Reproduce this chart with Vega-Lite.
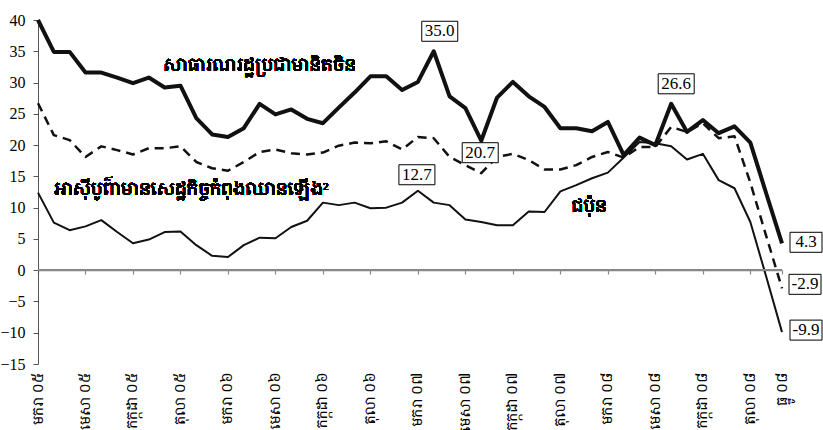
{
  "$schema": "https://vega.github.io/schema/vega-lite/v6.json",
  "width": 744,
  "height": 344,
  "autosize": "none",
  "padding": {"left": 38, "top": 20, "right": 41, "bottom": 66},
  "background": "white",
  "config": {
    "view": {"stroke": null},
    "font": "Liberation Serif",
    "axis": {"grid": false},
    "axisY": {"tickCount": 11, "domainColor": "#555", "tickColor": "#555", "tickSize": 5, "labelFont": "Liberation Serif", "labelFontSize": 16, "labelColor": "black", "labelPadding": 8, "labelOverlap": false, "labelFlush": false, "labelBound": false},
    "axisX": {"labelAngle": -90, "labelFont": "Noto Serif Khmer, Noto Sans Khmer, Khmer OS, serif", "labelFontSize": 14, "labelColor": "black", "labelOverlap": false, "labelBound": false, "labelFlush": false}
  },
  "datasets": {
    "series": [
      {"m": "មករា ០៥", "china": 40.0, "asia": 26.7, "japan": 12.4},
      {"m": "កុម្ភៈ ០៥", "china": 34.9, "asia": 21.6, "japan": 7.6},
      {"m": "មីនា ០៥", "china": 34.9, "asia": 20.8, "japan": 6.4},
      {"m": "មេសា ០៥", "china": 31.6, "asia": 18.1, "japan": 7.0},
      {"m": "ឧសភា ០៥", "china": 31.6, "asia": 19.8, "japan": 8.0},
      {"m": "មិថុនា ០៥", "china": 30.8, "asia": 19.2, "japan": 6.1},
      {"m": "កក្កដា ០៥", "china": 29.9, "asia": 18.5, "japan": 4.3},
      {"m": "សីហា ០៥", "china": 30.8, "asia": 19.5, "japan": 4.9},
      {"m": "កញ្ញា ០៥", "china": 29.2, "asia": 19.5, "japan": 6.1},
      {"m": "តុលា ០៥", "china": 29.5, "asia": 19.8, "japan": 6.2},
      {"m": "វិច្ឆិកា ០៥", "china": 24.3, "asia": 17.3, "japan": 4.0},
      {"m": "ធ្នូ ០៥", "china": 21.7, "asia": 16.3, "japan": 2.3},
      {"m": "មករា ០៦", "china": 21.3, "asia": 15.9, "japan": 2.1},
      {"m": "កុម្ភៈ ០៦", "china": 22.7, "asia": 17.3, "japan": 4.0},
      {"m": "មីនា ០៦", "china": 26.6, "asia": 18.9, "japan": 5.2},
      {"m": "មេសា ០៦", "china": 24.9, "asia": 19.3, "japan": 5.1},
      {"m": "ឧសភា ០៦", "china": 25.7, "asia": 18.7, "japan": 6.9},
      {"m": "មិថុនា ០៦", "china": 24.2, "asia": 18.5, "japan": 7.9},
      {"m": "កក្កដា ០៦", "china": 23.5, "asia": 18.8, "japan": 10.8},
      {"m": "សីហា ០៦", "china": 26.0, "asia": 19.9, "japan": 10.4},
      {"m": "កញ្ញា ០៦", "china": 28.4, "asia": 20.4, "japan": 10.8},
      {"m": "តុលា ០៦", "china": 31.0, "asia": 20.3, "japan": 9.9},
      {"m": "វិច្ឆិកា ០៦", "china": 31.0, "asia": 20.6, "japan": 10.0},
      {"m": "ធ្នូ ០៦", "china": 28.8, "asia": 19.3, "japan": 10.8},
      {"m": "មករា ០៧", "china": 30.1, "asia": 21.3, "japan": 12.7},
      {"m": "កុម្ភៈ ០៧", "china": 35.0, "asia": 21.1, "japan": 10.8},
      {"m": "មីនា ០៧", "china": 27.8, "asia": 18.1, "japan": 10.4},
      {"m": "មេសា ០៧", "china": 25.9, "asia": 16.8, "japan": 8.1},
      {"m": "ឧសភា ០៧", "china": 20.7, "asia": 15.5, "japan": 7.7},
      {"m": "មិថុនា ០៧", "china": 27.6, "asia": 18.1, "japan": 7.2},
      {"m": "កក្កដា ០៧", "china": 30.1, "asia": 18.6, "japan": 7.2},
      {"m": "សីហា ០៧", "china": 27.8, "asia": 17.6, "japan": 9.4},
      {"m": "កញ្ញា ០៧", "china": 26.1, "asia": 16.1, "japan": 9.3},
      {"m": "តុលា ០៧", "china": 22.7, "asia": 16.1, "japan": 12.6},
      {"m": "វិច្ឆិកា ០៧", "china": 22.7, "asia": 16.8, "japan": 13.6},
      {"m": "ធ្នូ ០៧", "china": 22.2, "asia": 18.1, "japan": 14.7},
      {"m": "មករា ០៨", "china": 23.7, "asia": 18.9, "japan": 15.6},
      {"m": "កុម្ភៈ ០៨", "china": 18.4, "asia": 18.0, "japan": 18.0},
      {"m": "មីនា ០៨", "china": 21.2, "asia": 19.7, "japan": 20.5},
      {"m": "មេសា ០៨", "china": 20.0, "asia": 19.7, "japan": 20.3},
      {"m": "ឧសភា ០៨", "china": 26.6, "asia": 22.9, "japan": 19.8},
      {"m": "មិថុនា ០៨", "china": 22.1, "asia": 22.1, "japan": 17.7},
      {"m": "កក្កដា ០៨", "china": 24.0, "asia": 23.5, "japan": 18.6},
      {"m": "សីហា ០៨", "china": 21.9, "asia": 21.1, "japan": 14.4},
      {"m": "កញ្ញា ០៨", "china": 23.0, "asia": 21.4, "japan": 13.1},
      {"m": "តុលា ០៨", "china": 20.4, "asia": 14.0, "japan": 7.7},
      {"m": "វិច្ឆិកា ០៨", "china": 12.3, "asia": 5.5, "japan": -1.0},
      {"m": "ធ្នូ ០៨", "china": 4.3, "asia": -2.9, "japan": -9.9}
    ],
    "notes": [
      {"m": "កុម្ភៈ ០៧", "v": 35.0, "label": "35.0"},
      {"m": "ឧសភា ០៧", "v": 20.7, "label": "20.7"},
      {"m": "មករា ០៧", "v": 12.7, "label": "12.7"},
      {"m": "ឧសភា ០៨", "v": 26.6, "label": "26.6"},
      {"m": "ធ្នូ ០៨", "v": 4.3, "label": "4.3"},
      {"m": "ធ្នូ ០៨", "v": -2.9, "label": "-2.9"},
      {"m": "ធ្នូ ០៨", "v": -9.9, "label": "-9.9"}
    ]
  },
  "data": {"name": "series"},
  "layer": [
    {
      "mark": {"type": "line", "color": "#111", "strokeWidth": 4, "strokeJoin": "round"},
      "encoding": {
        "x": {
          "field": "m", "type": "ordinal", "title": null,
          "scale": {"type": "point", "padding": 0, "domain": ["មករា ០៥","កុម្ភៈ ០៥","មីនា ០៥","មេសា ០៥","ឧសភា ០៥","មិថុនា ០៥","កក្កដា ០៥","សីហា ០៥","កញ្ញា ០៥","តុលា ០៥","វិច្ឆិកា ០៥","ធ្នូ ០៥","មករា ០៦","កុម្ភៈ ០៦","មីនា ០៦","មេសា ០៦","ឧសភា ០៦","មិថុនា ០៦","កក្កដា ០៦","សីហា ០៦","កញ្ញា ០៦","តុលា ០៦","វិច្ឆិកា ០៦","ធ្នូ ០៦","មករា ០៧","កុម្ភៈ ០៧","មីនា ០៧","មេសា ០៧","ឧសភា ០៧","មិថុនា ០៧","កក្កដា ០៧","សីហា ០៧","កញ្ញា ០៧","តុលា ០៧","វិច្ឆិកា ០៧","ធ្នូ ០៧","មករា ០៨","កុម្ភៈ ០៨","មីនា ០៨","មេសា ០៨","ឧសភា ០៨","មិថុនា ០៨","កក្កដា ០៨","សីហា ០៨","កញ្ញា ០៨","តុលា ០៨","វិច្ឆិកា ០៨","ធ្នូ ០៨"]},
          "axis": {
            "title": null,
            "values": ["មករា ០៥","មេសា ០៥","កក្កដា ០៥","តុលា ០៥","មករា ០៦","មេសា ០៦","កក្កដា ០៦","តុលា ០៦","មករា ០៧","មេសា ០៧","កក្កដា ០៧","តុលា ០៧","មករា ០៨","មេសា ០៨","កក្កដា ០៨","តុលា ០៨","ធ្នូ ០៨"],
            "offset": -94, "domain": true, "domainColor": "#888", "domainWidth": 1.5,
            "ticks": true, "tickSize": 4, "tickColor": "#888", "tickWidth": 1.2,
            "labelPadding": 98, "labelAngle": -90,
            "labelFont": "Noto Serif Khmer, Noto Sans Khmer, Khmer OS, serif", "labelFontSize": 14, "labelColor": "black",
            "labelOverlap": false, "labelBound": false, "labelFlush": false
          }
        },
        "y": {
          "field": "china", "type": "quantitative", "title": null,
          "scale": {"domain": [-15, 40], "nice": false, "zero": false}
        }
      }
    },
    {
      "mark": {"type": "line", "color": "#111", "strokeWidth": 2.5, "strokeDash": [9, 6], "strokeJoin": "round"},
      "encoding": {
        "x": {"field": "m", "type": "ordinal", "title": null},
        "y": {"field": "asia", "type": "quantitative", "title": null}
      }
    },
    {
      "mark": {"type": "line", "color": "#111", "strokeWidth": 2, "strokeJoin": "round"},
      "encoding": {
        "x": {"field": "m", "type": "ordinal", "title": null},
        "y": {"field": "japan", "type": "quantitative", "title": null}
      }
    },
    {
      "mark": {"type": "text", "font": "Noto Serif Khmer, Noto Sans Khmer, Khmer OS, serif", "fontSize": 18, "color": "black", "align": "center", "baseline": "middle"},
      "encoding": {
        "x": {"datum": "មីនា ០៦", "type": "ordinal", "title": null},
        "y": {"datum": 32.6, "type": "quantitative", "title": null},
        "text": {"value": "សាធារណរដ្ឋប្រជាមានិតចិន"}
      }
    },
    {
      "mark": {"type": "text", "font": "Noto Serif Khmer, Noto Sans Khmer, Khmer OS, serif", "fontSize": 18, "color": "black", "align": "center", "baseline": "middle", "dx": -5},
      "encoding": {
        "x": {"datum": "វិច្ឆិកា ០៥", "type": "ordinal", "title": null},
        "y": {"datum": 12.8, "type": "quantitative", "title": null},
        "text": {"value": "អាស៊ីបូព៌ាមានសេដ្ឋកិច្ចកំពុងឈានឡើង²"}
      }
    },
    {
      "mark": {"type": "text", "font": "Noto Serif Khmer, Noto Sans Khmer, Khmer OS, serif", "fontSize": 18, "color": "black", "align": "center", "baseline": "middle", "dx": -3},
      "encoding": {
        "x": {"datum": "ធ្នូ ០៧", "type": "ordinal", "title": null},
        "y": {"datum": 10.1, "type": "quantitative", "title": null},
        "text": {"value": "ជប៉ុន"}
      }
    },
    {
      "data": {"name": "notes"},
      "transform": [{"filter": "datum.label == '35.0'"}],
      "encoding": {"x": {"field": "m", "type": "ordinal", "title": null}, "y": {"field": "v", "type": "quantitative", "title": null}},
      "layer": [
        {"mark": {"type": "point", "shape": "M-1.8,-1H1.8V1H-1.8Z", "size": 400, "filled": true, "fill": "white", "stroke": "black", "strokeWidth": 1, "opacity": 1, "xOffset": 6, "yOffset": -20}},
        {"mark": {"type": "text", "font": "Liberation Serif", "fontSize": 17, "color": "black", "dx": 6, "dy": -20}, "encoding": {"text": {"field": "label"}}}
      ]
    },
    {
      "data": {"name": "notes"},
      "transform": [{"filter": "datum.label == '20.7'"}],
      "encoding": {"x": {"field": "m", "type": "ordinal", "title": null}, "y": {"field": "v", "type": "quantitative", "title": null}},
      "layer": [
        {"mark": {"type": "point", "shape": "M-1.8,-1H1.8V1H-1.8Z", "size": 400, "filled": true, "fill": "white", "stroke": "black", "strokeWidth": 1, "opacity": 1, "xOffset": -1, "yOffset": 12}},
        {"mark": {"type": "text", "font": "Liberation Serif", "fontSize": 17, "color": "black", "dx": -1, "dy": 12}, "encoding": {"text": {"field": "label"}}}
      ]
    },
    {
      "data": {"name": "notes"},
      "transform": [{"filter": "datum.label == '12.7'"}],
      "encoding": {"x": {"field": "m", "type": "ordinal", "title": null}, "y": {"field": "v", "type": "quantitative", "title": null}},
      "layer": [
        {"mark": {"type": "point", "shape": "M-1.8,-1H1.8V1H-1.8Z", "size": 400, "filled": true, "fill": "white", "stroke": "black", "strokeWidth": 1, "opacity": 1, "xOffset": -1, "yOffset": -16}},
        {"mark": {"type": "text", "font": "Liberation Serif", "fontSize": 17, "color": "black", "dx": -1, "dy": -16}, "encoding": {"text": {"field": "label"}}}
      ]
    },
    {
      "data": {"name": "notes"},
      "transform": [{"filter": "datum.label == '26.6'"}],
      "encoding": {"x": {"field": "m", "type": "ordinal", "title": null}, "y": {"field": "v", "type": "quantitative", "title": null}},
      "layer": [
        {"mark": {"type": "point", "shape": "M-1.8,-1H1.8V1H-1.8Z", "size": 400, "filled": true, "fill": "white", "stroke": "black", "strokeWidth": 1, "opacity": 1, "xOffset": 5, "yOffset": -20}},
        {"mark": {"type": "text", "font": "Liberation Serif", "fontSize": 17, "color": "black", "dx": 5, "dy": -20}, "encoding": {"text": {"field": "label"}}}
      ]
    },
    {
      "data": {"name": "notes"},
      "transform": [{"filter": "datum.label == '4.3'"}],
      "encoding": {"x": {"field": "m", "type": "ordinal", "title": null}, "y": {"field": "v", "type": "quantitative", "title": null}},
      "layer": [
        {"mark": {"type": "point", "shape": "M-1.6,-1H1.6V1H-1.6Z", "size": 400, "filled": true, "fill": "white", "stroke": "black", "strokeWidth": 1, "opacity": 1, "xOffset": 24, "yOffset": -1}},
        {"mark": {"type": "text", "font": "Liberation Serif", "fontSize": 17, "color": "black", "dx": 24, "dy": -1}, "encoding": {"text": {"field": "label"}}}
      ]
    },
    {
      "data": {"name": "notes"},
      "transform": [{"filter": "datum.label == '-2.9'"}],
      "encoding": {"x": {"field": "m", "type": "ordinal", "title": null}, "y": {"field": "v", "type": "quantitative", "title": null}},
      "layer": [
        {"mark": {"type": "point", "shape": "M-1.6,-1H1.6V1H-1.6Z", "size": 400, "filled": true, "fill": "white", "stroke": "black", "strokeWidth": 1, "opacity": 1, "xOffset": 23, "yOffset": -4}},
        {"mark": {"type": "text", "font": "Liberation Serif", "fontSize": 17, "color": "black", "dx": 23, "dy": -4}, "encoding": {"text": {"field": "label"}}}
      ]
    },
    {
      "data": {"name": "notes"},
      "transform": [{"filter": "datum.label == '-9.9'"}],
      "encoding": {"x": {"field": "m", "type": "ordinal", "title": null}, "y": {"field": "v", "type": "quantitative", "title": null}},
      "layer": [
        {"mark": {"type": "point", "shape": "M-1.6,-1H1.6V1H-1.6Z", "size": 400, "filled": true, "fill": "white", "stroke": "black", "strokeWidth": 1, "opacity": 1, "xOffset": 24, "yOffset": -2}},
        {"mark": {"type": "text", "font": "Liberation Serif", "fontSize": 17, "color": "black", "dx": 24, "dy": -2}, "encoding": {"text": {"field": "label"}}}
      ]
    },
    {
      "mark": {"type": "rule", "stroke": "#888888", "strokeWidth": 1.5, "opacity": 1},
      "encoding": {"y": {"datum": 0, "type": "quantitative", "title": null}}
    }
  ]
}
